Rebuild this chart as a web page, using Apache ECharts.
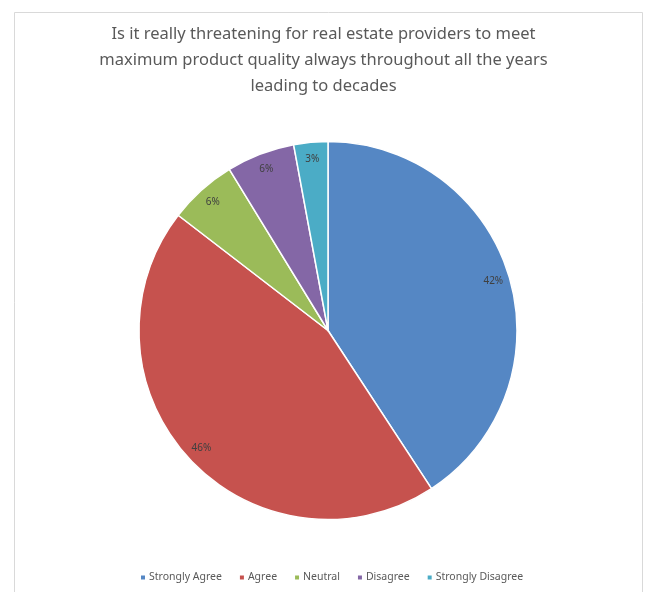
<!DOCTYPE html>
<html><head><meta charset="utf-8">
<script src="https://cdn.jsdelivr.net/npm/echarts@6/dist/echarts.min.js"></script>
<style>html,body{margin:0;padding:0;background:#fff}#c{width:647px;height:592px}</style>
</head><body><div id="c"></div>
<script>
const categories = ['Strongly Agree', 'Agree', 'Neutral', 'Disagree', 'Strongly Disagree'];
const values = [42, 46, 6, 6, 3];
const colors = ['#5587C4', '#C6524E', '#9BBB59', '#8467A6', '#4BACC6'];
const titleLines = ['Is it really threatening for real estate providers to meet', 'maximum product quality always throughout all the years', 'leading to decades'];

const data = categories.map((n, i) => ({ name: n, value: values[i], itemStyle: { color: colors[i] } }));
const chart = echarts.init(document.getElementById('c'));
chart.setOption({
  backgroundColor: '#fff',
  animation: false,
  graphic: [{ type: 'rect', shape: { x: 14.5, y: 12.5, width: 628, height: 600 }, style: { fill: 'none', stroke: '#d9d9d9', lineWidth: 1 }, z: -1 }],
  title: {
    text: titleLines.join('\n'), left: 'center', top: 16,
    textStyle: { fontFamily: 'Noto Sans', fontSize: 16.5, fontWeight: 'normal', color: '#595959', lineHeight: 26 }
  },
  legend: {
    bottom: 4, left: 134, itemWidth: 6, itemHeight: 6, itemGap: 16, icon: 'rect',
    textStyle: { fontFamily: 'Noto Sans', fontSize: 10.5, color: '#595959', padding: [0, 0, 0, -2] },
    data: categories
  },
  series: [{
    type: 'pie', center: [328, 330.5], radius: 189, startAngle: 90, clockwise: true,
    itemStyle: { borderColor: '#fff', borderWidth: 1.5 },
    label: { show: false }, labelLine: { show: false }, emphasis: { disabled: true },
    data: data
  }, {
    type: 'pie', center: [328, 330.5], radius: [150, 189], startAngle: 90, clockwise: true,
    itemStyle: { color: 'rgba(0,0,0,0)' }, silent: true, legendHoverLink: false,
    label: { show: true, position: 'inside', formatter: p => p.value + '%', fontFamily: 'Noto Sans', fontSize: 10, color: '#404040' },
    labelLine: { show: false }, emphasis: { disabled: true },
    data: categories.map((n, i) => ({ name: n + ' ', value: values[i] }))
  }]
});
</script></body></html>
